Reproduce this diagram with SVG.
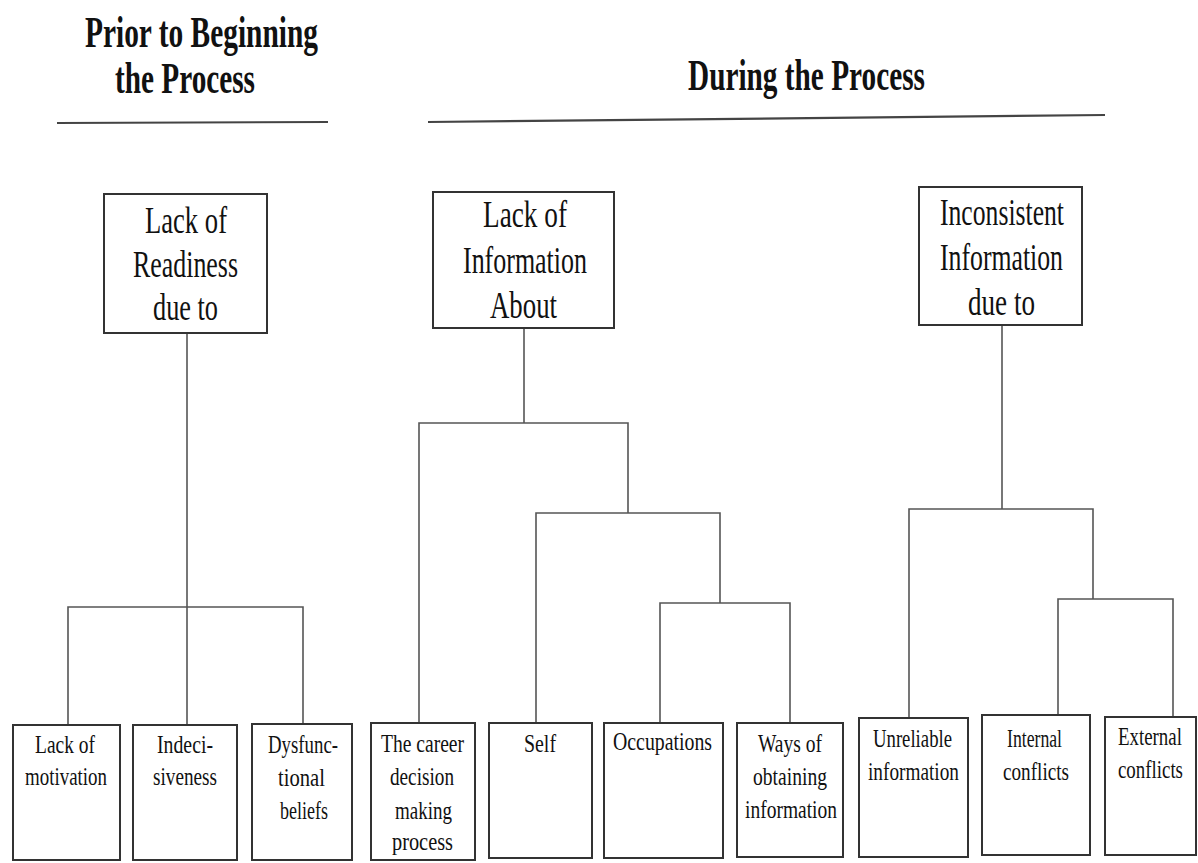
<svg xmlns="http://www.w3.org/2000/svg" width="1198" height="863" viewBox="0 0 1198 863">
<style>
  text { font-family: "Liberation Serif", "Times New Roman", serif; fill: #111; }
  .title { font-size: 45px; font-weight: bold; }
  .big { font-size: 38px; }
  .small { font-size: 25px; }
  .box { fill: #fff; stroke: #333; stroke-width: 2; }
  .conn line, .conn polyline { stroke: #555; stroke-width: 1.6; fill: none; }
  .rule { stroke: #444; stroke-width: 2.2; }
</style>
<rect width="1198" height="863" fill="#fff"/>

<g id="headers">
  <text class="title" x="85" y="47" textLength="233" lengthAdjust="spacingAndGlyphs">Prior to Beginning</text>
  <text class="title" x="115" y="93" textLength="140" lengthAdjust="spacingAndGlyphs">the Process</text>
  <line class="rule" x1="57" y1="123" x2="328" y2="122"/>
  <text class="title" x="688" y="90" textLength="237" lengthAdjust="spacingAndGlyphs">During the Process</text>
  <line class="rule" x1="428" y1="122" x2="1105" y2="115"/>
</g>

<g class="conn" id="connectors">
  <!-- left tree -->
  <line x1="187" y1="333" x2="187" y2="725"/>
  <polyline points="68,725 68,607 303,607 303,724"/>
  <!-- middle tree -->
  <line x1="524" y1="328" x2="524" y2="423"/>
  <polyline points="419,723 419,423 628,423 628,513"/>
  <polyline points="536,723 536,513 720,513 720,603"/>
  <polyline points="660,723 660,603 790,603 790,723"/>
  <!-- right tree -->
  <line x1="1002" y1="325" x2="1002" y2="509"/>
  <polyline points="909,718 909,509 1093,509 1093,599"/>
  <polyline points="1058,715 1058,599 1173,599 1173,717"/>
</g>

<g id="lack-of-readiness">
  <rect class="box" x="104" y="194" width="163" height="139"/>
  <text class="big" x="145" y="233" textLength="82" lengthAdjust="spacingAndGlyphs">Lack of</text>
  <text class="big" x="133" y="277" textLength="105" lengthAdjust="spacingAndGlyphs">Readiness</text>
  <text class="big" x="153" y="320" textLength="65" lengthAdjust="spacingAndGlyphs">due to</text>
</g>

<g id="lack-of-information">
  <rect class="box" x="433" y="192" width="181" height="136"/>
  <text class="big" x="483" y="227" textLength="84" lengthAdjust="spacingAndGlyphs">Lack of</text>
  <text class="big" x="463" y="273" textLength="124" lengthAdjust="spacingAndGlyphs">Information</text>
  <text class="big" x="490" y="318" textLength="67" lengthAdjust="spacingAndGlyphs">About</text>
</g>

<g id="inconsistent-information">
  <rect class="box" x="919" y="187" width="163" height="138"/>
  <text class="big" x="940" y="225" textLength="124" lengthAdjust="spacingAndGlyphs">Inconsistent</text>
  <text class="big" x="940" y="270" textLength="123" lengthAdjust="spacingAndGlyphs">Information</text>
  <text class="big" x="968" y="315" textLength="67" lengthAdjust="spacingAndGlyphs">due to</text>
</g>

<g id="lack-of-motivation">
  <rect class="box" x="13" y="725" width="107" height="135"/>
  <text class="small" x="35" y="753" textLength="60" lengthAdjust="spacingAndGlyphs">Lack of</text>
  <text class="small" x="25" y="785" textLength="82" lengthAdjust="spacingAndGlyphs">motivation</text>
</g>

<g id="indecisiveness">
  <rect class="box" x="133" y="725" width="104" height="135"/>
  <text class="small" x="157" y="753" textLength="56" lengthAdjust="spacingAndGlyphs">Indeci-</text>
  <text class="small" x="153" y="785" textLength="64" lengthAdjust="spacingAndGlyphs">siveness</text>
</g>

<g id="dysfunctional-beliefs">
  <rect class="box" x="252" y="724" width="100" height="136"/>
  <text class="small" x="268" y="753" textLength="70" lengthAdjust="spacingAndGlyphs">Dysfunc-</text>
  <text class="small" x="278" y="786" textLength="47" lengthAdjust="spacingAndGlyphs">tional</text>
  <text class="small" x="280" y="819" textLength="48" lengthAdjust="spacingAndGlyphs">beliefs</text>
</g>

<g id="career-decision-process">
  <rect class="box" x="371" y="723" width="104" height="137"/>
  <text class="small" x="381" y="752" textLength="83" lengthAdjust="spacingAndGlyphs">The career</text>
  <text class="small" x="390" y="785" textLength="64" lengthAdjust="spacingAndGlyphs">decision</text>
  <text class="small" x="395" y="819" textLength="57" lengthAdjust="spacingAndGlyphs">making</text>
  <text class="small" x="392" y="850" textLength="61" lengthAdjust="spacingAndGlyphs">process</text>
</g>

<g id="self">
  <rect class="box" x="489" y="723" width="103" height="135"/>
  <text class="small" x="524" y="752" textLength="32" lengthAdjust="spacingAndGlyphs">Self</text>
</g>

<g id="occupations">
  <rect class="box" x="604" y="723" width="119" height="135"/>
  <text class="small" x="613" y="750" textLength="99" lengthAdjust="spacingAndGlyphs">Occupations</text>
</g>

<g id="ways-of-obtaining">
  <rect class="box" x="737" y="723" width="106" height="134"/>
  <text class="small" x="758" y="752" textLength="64" lengthAdjust="spacingAndGlyphs">Ways of</text>
  <text class="small" x="753" y="785" textLength="74" lengthAdjust="spacingAndGlyphs">obtaining</text>
  <text class="small" x="745" y="818" textLength="92" lengthAdjust="spacingAndGlyphs">information</text>
</g>

<g id="unreliable-information">
  <rect class="box" x="859" y="718" width="109" height="139"/>
  <text class="small" x="873" y="747" textLength="79" lengthAdjust="spacingAndGlyphs">Unreliable</text>
  <text class="small" x="868" y="780" textLength="91" lengthAdjust="spacingAndGlyphs">information</text>
</g>

<g id="internal-conflicts">
  <rect class="box" x="982" y="715" width="108" height="140"/>
  <text class="small" x="1007" y="747" textLength="55" lengthAdjust="spacingAndGlyphs">Internal</text>
  <text class="small" x="1003" y="780" textLength="66" lengthAdjust="spacingAndGlyphs">conflicts</text>
</g>

<g id="external-conflicts">
  <rect class="box" x="1105" y="717" width="91" height="138"/>
  <text class="small" transform="translate(1118,745) scale(0.755,1)">External</text>
  <text class="small" transform="translate(1118,778) scale(0.755,1)">conflicts</text>
</g>
</svg>
